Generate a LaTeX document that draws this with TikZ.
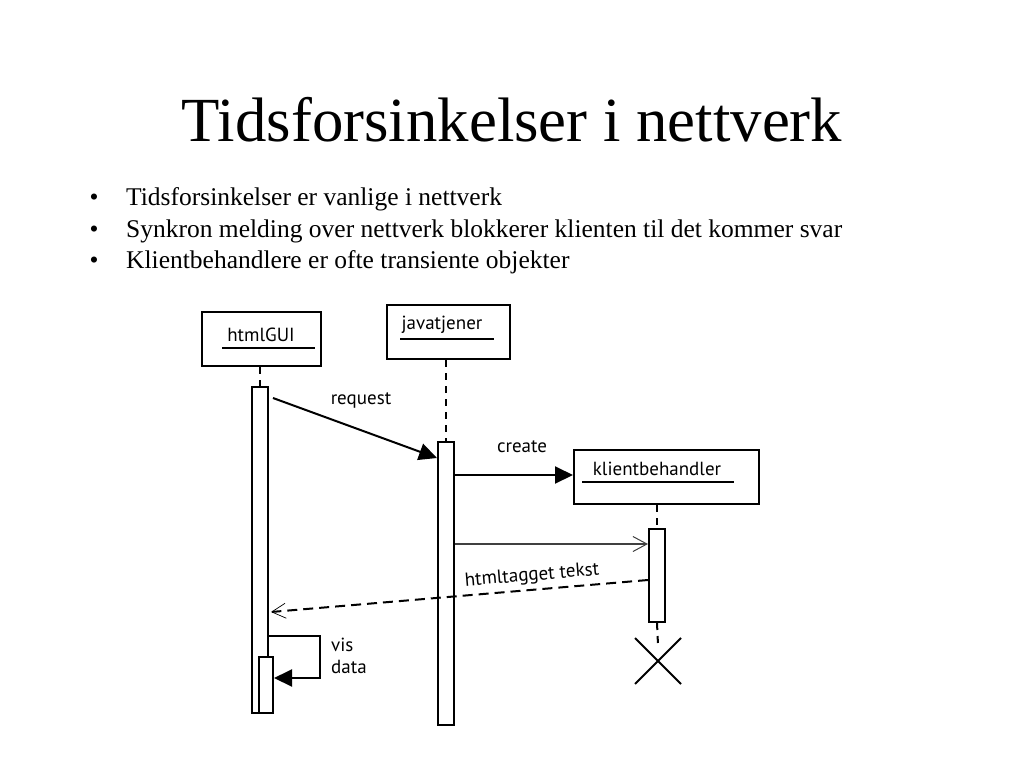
\documentclass[tikz,border=0pt]{standalone}
\usepackage{fontspec}
\setmainfont{Liberation Serif}
\newfontfamily\umlfont{PT Sans}
\usetikzlibrary{arrows.meta,positioning,calc,shapes.misc}

\begin{document}
\begin{tikzpicture}[x=1pt, y=-1pt, auto,
  object/.style={draw, line width=2pt, minimum height=54pt, inner sep=0pt},
  bar/.style={draw, line width=2pt, fill=white, minimum width=16pt, inner sep=0pt, anchor=north},
  life/.style={line width=2pt, dash pattern=on 7pt off 6pt},
  call/.style={line width=2pt, -{Triangle[length=18pt, width=17pt]}},
  send/.style={line width=1.6pt, draw=black!75, -{Straight Barb[length=14pt, width=15pt, line width=1pt]}},
  reply/.style={line width=2pt, dash pattern=on 10pt off 6pt, -{Straight Barb[length=14pt, width=15pt, line width=0.7pt]}},
  uml/.style={font=\umlfont\fontsize{19}{22}\selectfont, inner sep=0pt}]
  \useasboundingbox (0,0) rectangle (1024,768);

  % title and bullets
  \node[anchor=base, inner sep=0pt, font=\fontsize{62.8}{70}\selectfont] (title) at (512,141) {Tidsforsinkelser i nettverk};
  \foreach \txt [count=\i] in {Tidsforsinkelser er vanlige i nettverk,
      Synkron melding over nettverk blokkerer klienten til det kommer svar,
      Klientbehandlere er ofte transiente objekter} {
    \node[anchor=base west, inner sep=0pt, font=\fontsize{25.5}{28}\selectfont] (b\i) at (126,174+31.5*\i) {\txt};
    \node[anchor=base, inner sep=0pt, font=\fontsize{25.5}{28}\selectfont] (dot\i) at (94,174+31.5*\i) {\textbullet};
  }

  % objects
  \node[object, minimum width=119pt, anchor=north west] (gui) at (201,311) {};
  \node[object, minimum width=123pt, anchor=north west] (server) at (386,304) {};
  \node[object, minimum width=185pt, anchor=north west] (handler) at (573,449) {};
  \node[uml] (guitxt) at (261,335) {htmlGUI};
  \node[uml] (servertxt) at (442,325) {javatjener};
  \node[uml] (handlertxt) at (657,469) {klientbehandler};
  \draw[line width=2pt] (222,348) -- (315,348);
  \draw[line width=2pt] (400,339) -- (494,339);
  \draw[line width=2pt] (582,482) -- (734,482);

  % activation bars
  \node[bar, minimum height=326pt] (guibar) at (260,386) {};
  \node[bar, minimum height=283pt] (serverbar) at (446,441) {};
  \node[bar, minimum height=93pt] (handlerbar) at (657,528) {};
  \node[bar, minimum width=14pt, minimum height=56pt] (visbar) at (266,656) {};

  % lifelines
  \draw[life] (gui.south -| guibar.north) -- (guibar.north);
  \draw[life] (server.south -| serverbar.north) -- (serverbar.north);
  \draw[life] (handler.south -| handlerbar.north) -- (handlerbar.north);
  \node[draw, cross out, line width=2pt, minimum size=44pt, inner sep=0pt] (kill) at (658,661) {};
  \draw[life] (handlerbar.south) -- ($(kill.center)+(0,-16)$);

  % messages
  \draw[call] ($(guibar.north east)+(4,12)$) -- ($(serverbar.north west)+(0,17)$);
  \node[uml] (reqtxt) at (361,400) {request};
  \draw[call] ($(serverbar.north east)+(0,34)$) -- (handler.west |- 0,475);
  \node[uml] (createtxt) at (522,447) {create};
  \draw[send] ($(serverbar.north east)+(0,103)$) -- (handlerbar.west |- 0,544);
  \draw[reply] ($(handlerbar.north west)+(0,52)$) -- ($(guibar.north east)+(2,226)$);
  \node[uml, rotate=4.8] (replytxt) at (532,576) {htmltagget tekst};
  \draw[call] ($(guibar.north east)+(0,250)$) -- (320,636) |- (visbar.east |- 0,678);
  \node[uml, anchor=north west, align=left, font=\umlfont\fontsize{19}{22}\selectfont] (vistxt) at (331,638) {vis\\data};
\end{tikzpicture}
\end{document}
